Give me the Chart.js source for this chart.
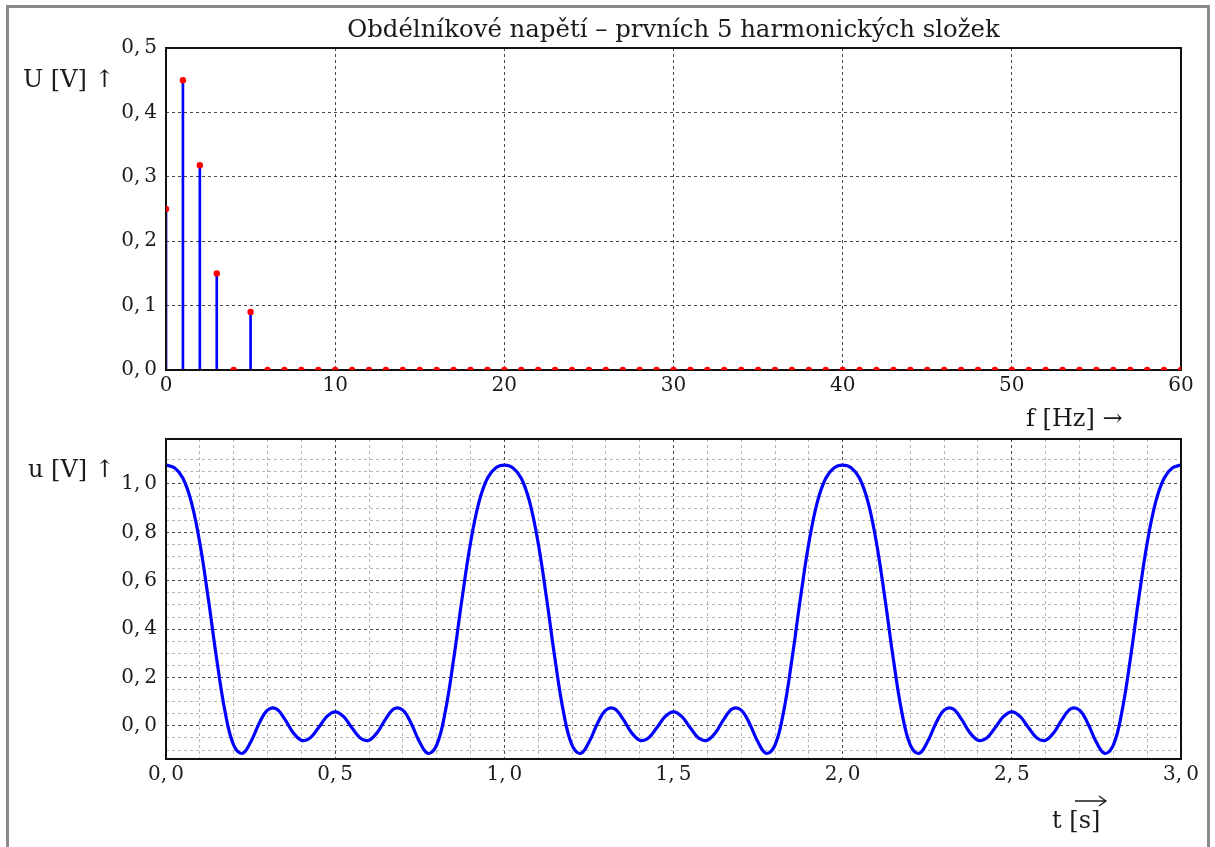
<!DOCTYPE html>
<html>
<head>
<meta charset="utf-8">
<script src="https://cdn.jsdelivr.net/npm/chart.js@4.4.1/dist/chart.umd.min.js"></script>
<style>
html,body{margin:0;padding:0;background:#fff;}
body{width:1215px;height:847px;position:relative;overflow:hidden;}
#frame{position:absolute;left:6px;top:5px;width:1198px;height:900px;border:3px solid #8a8a8a;}
canvas{position:absolute;left:0;}
#topc{top:0;}
#botc{top:420px;}
</style>
</head>
<body>
<div id="frame"></div>
<canvas id="topc" width="1215" height="440"></canvas>
<canvas id="botc" width="1215" height="427"></canvas>
<script>
// ---------- data ----------
const titleText = 'Obdélníkové napětí – prvních 5 harmonických složek';

// spectrum (top panel)
const freqHz = [0,1,2,3,4,5,6,7,8,9,10,11,12,13,14,15,16,17,18,19,20,21,22,23,24,25,26,27,28,29,30,
  31,32,33,34,35,36,37,38,39,40,41,42,43,44,45,46,47,48,49,50,51,52,53,54,55,56,57,58,59,60];
const amplitudeV = [0.25,0.45,0.318,0.15,0,0.09,0,0,0,0,0,0,0,0,0,0,0,0,0,0,0,
  0,0,0,0,0,0,0,0,0,0,0,0,0,0,0,0,0,0,0,0,0,0,0,0,0,0,0,0,0,0,0,0,0,0,0,0,0,0,0,0];
const fTicks = [0,10,20,30,40,50,60];
const uTopTicks = [0,0.1,0.2,0.3,0.4,0.5];

// time signal (bottom panel), sampled every 0.025 s from t = 0 to 3 s
const tStep = 0.025;
const uValues = [
  1.078,1.067,1.024,0.925,0.756,0.526,0.274,0.056,-0.080,-0.114,
  -0.068,0.009,0.065,0.071,0.030,-0.026,-0.059,-0.051,-0.009,0.038,
  0.058,0.038,-0.009,-0.051,-0.059,-0.026,0.030,0.071,0.065,0.009,
  -0.068,-0.114,-0.080,0.056,0.274,0.526,0.756,0.925,1.024,1.067,
  1.078,1.067,1.024,0.925,0.756,0.526,0.274,0.056,-0.080,-0.114,
  -0.068,0.009,0.065,0.071,0.030,-0.026,-0.059,-0.051,-0.009,0.038,
  0.058,0.038,-0.009,-0.051,-0.059,-0.026,0.030,0.071,0.065,0.009,
  -0.068,-0.114,-0.080,0.056,0.274,0.526,0.756,0.925,1.024,1.067,
  1.078,1.067,1.024,0.925,0.756,0.526,0.274,0.056,-0.080,-0.114,
  -0.068,0.009,0.065,0.071,0.030,-0.026,-0.059,-0.051,-0.009,0.038,
  0.058,0.038,-0.009,-0.051,-0.059,-0.026,0.030,0.071,0.065,0.009,
  -0.068,-0.114,-0.080,0.056,0.274,0.526,0.756,0.925,1.024,1.067,
  1.078
];
const tSamples = uValues.map((_, i) => +(i * tStep).toFixed(3));
const tGridTicks = [0,0.1,0.2,0.3,0.4,0.5,0.6,0.7,0.8,0.9,1.0,1.1,1.2,1.3,1.4,1.5,1.6,1.7,1.8,1.9,2.0,
  2.1,2.2,2.3,2.4,2.5,2.6,2.7,2.8,2.9,3.0];
const tMajor = [0,0.5,1.0,1.5,2.0,2.5,3.0];
const uGridTicks = [-0.1,-0.05,0,0.05,0.1,0.15,0.2,0.25,0.3,0.35,0.4,0.45,0.5,0.55,0.6,0.65,0.7,0.75,
  0.8,0.85,0.9,0.95,1.0,1.05,1.1];
const uMajor = [0,0.2,0.4,0.6,0.8,1.0];
const uBottomRange = [-0.137, 1.186];

// ---------- styles ----------
const FONT = "'DejaVu Serif', serif";
const TXT = '#1a1a1a';
const MAJOR_GRID = 'rgba(0,0,0,0.72)';
const MINOR_GRID = 'rgba(0,0,0,0.28)';
const fmtDec = v => (Math.abs(v) < 1e-9 ? 0 : v).toFixed(1).replace('.', ',\u2009');
const isIn = (arr, v) => arr.some(a => Math.abs(a - v) < 1e-6);

function drawFrame(chart) {
  const a = chart.chartArea, c = chart.ctx;
  c.save();
  c.strokeStyle = '#111';
  c.lineWidth = 2;
  c.strokeRect(a.left, a.top, a.right - a.left, a.bottom - a.top);
  c.restore();
}
function text(c, s, x, y, size, align) {
  c.save();
  c.font = size + 'px ' + FONT;
  c.fillStyle = TXT;
  c.textAlign = align || 'left';
  c.textBaseline = 'alphabetic';
  c.fillText(s, x, y);
  c.restore();
}

// ---------- top chart ----------
const specPoints = freqHz.map((f, i) => ({x: f, y: amplitudeV[i]}));
new Chart(document.getElementById('topc'), {
  type: 'bar',
  data: {
    datasets: [
      { type: 'scatter', data: specPoints, pointRadius: 3.2, pointBackgroundColor: '#ff0000',
        pointBorderWidth: 0, showLine: false, clip: 0, order: 0 },
      { type: 'bar', data: specPoints, backgroundColor: '#0000ff', borderWidth: 0,
        barThickness: 2, clip: 0, order: 1 }
    ]
  },
  options: {
    responsive: false, animation: false, devicePixelRatio: 1,
    layout: { padding: { left: 0, right: 34, top: 48, bottom: 0 } },
    plugins: { legend: { display: false }, tooltip: { enabled: false }, title: { display: false } },
    scales: {
      x: {
        type: 'linear', min: 0, max: 60, offset: false,
        afterBuildTicks: s => { s.ticks = fTicks.map(v => ({ value: v })); },
        afterFit: s => { s.height = 70; },
        grid: { offset: false, drawTicks: false, color: MAJOR_GRID, lineWidth: 1 },
        border: { display: false, dash: [3, 3] },
        ticks: { padding: 6, autoSkip: false, maxRotation: 0, color: TXT,
          font: { family: FONT, size: 20, lineHeight: 1 }, callback: v => String(v) }
      },
      y: {
        type: 'linear', min: 0, max: 0.5,
        afterBuildTicks: s => { s.ticks = uTopTicks.map(v => ({ value: v })); },
        afterFit: s => { s.width = 166; },
        grid: { drawTicks: false, color: MAJOR_GRID, lineWidth: 1 },
        border: { display: false, dash: [3, 3] },
        ticks: { padding: 9, autoSkip: false, color: TXT,
          font: { family: FONT, size: 20, lineHeight: 1 }, callback: v => fmtDec(v) }
      }
    }
  },
  plugins: [{
    id: 'topDecor',
    afterDatasetDraw(chart, args) {
      if (args.meta.type === 'bar') drawFrame(chart);
    },
    afterDraw(chart) {
      const c = chart.ctx;
      const a = chart.chartArea;
      text(c, titleText, (a.left + a.right) / 2, 37, 24.4, 'center');
      text(c, 'U [V] \u2191', 23, 87, 24);
      text(c, 'f [Hz] \u2192', 1026, 426, 24);
    }
  }]
});

// ---------- bottom chart ----------
new Chart(document.getElementById('botc'), {
  type: 'line',
  data: {
    datasets: [{
      data: tSamples.map((t, i) => ({ x: t, y: uValues[i] })),
      borderColor: '#0000ff', borderWidth: 3.2, pointRadius: 0, fill: false,
      tension: 0.4
    }]
  },
  options: {
    responsive: false, animation: false, devicePixelRatio: 1,
    layout: { padding: { left: 0, right: 34, top: 15, bottom: 0 } },
    plugins: { legend: { display: false }, tooltip: { enabled: false } },
    scales: {
      x: {
        type: 'linear', min: 0, max: 3, offset: false,
        afterBuildTicks: s => { s.ticks = tGridTicks.map(v => ({ value: v })); },
        afterFit: s => { s.height = 88; },
        grid: { offset: false, drawTicks: false, lineWidth: 1,
          color: ctx => isIn(tMajor, ctx.tick.value) ? MAJOR_GRID : MINOR_GRID },
        border: { display: false, dash: [3, 3] },
        ticks: { padding: 6, autoSkip: false, maxRotation: 0, color: TXT,
          font: { family: FONT, size: 20, lineHeight: 1 },
          callback: v => isIn(tMajor, v) ? fmtDec(v) : '' }
      },
      y: {
        type: 'linear', min: uBottomRange[0], max: uBottomRange[1],
        afterBuildTicks: s => { s.ticks = uGridTicks.map(v => ({ value: v })); },
        afterFit: s => { s.width = 166; },
        grid: { drawTicks: false, lineWidth: 1,
          color: ctx => isIn(uMajor, ctx.tick.value) ? MAJOR_GRID : MINOR_GRID },
        border: { display: false, dash: [3, 3] },
        ticks: { padding: 9, autoSkip: false, color: TXT,
          font: { family: FONT, size: 20, lineHeight: 1 },
          callback: v => isIn(uMajor, v) ? fmtDec(v) : '' }
      }
    }
  },
  plugins: [{
    id: 'botDecor',
    afterDatasetsDraw(chart) { drawFrame(chart); },
    afterDraw(chart) {
      const c = chart.ctx;
      text(c, 'u [V] \u2191', 28, 57, 24);
      text(c, 't [s]', 1052, 408, 24);
      // vector arrow over [s]
      c.save();
      c.strokeStyle = TXT; c.lineWidth = 1.3;
      c.beginPath();
      c.moveTo(1075, 381); c.lineTo(1106, 381);
      c.moveTo(1099, 376); c.lineTo(1106, 381); c.lineTo(1099, 386);
      c.stroke();
      c.restore();
    }
  }]
});
</script>
</body>
</html>
